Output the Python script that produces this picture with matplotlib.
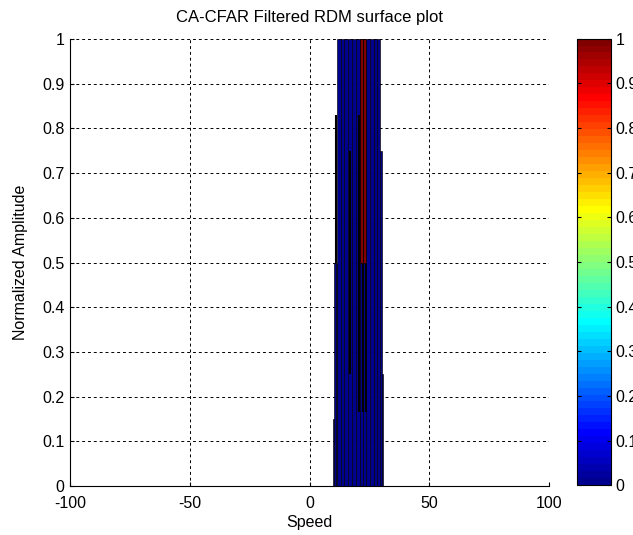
import matplotlib.pyplot as plt
import matplotlib as mpl
import numpy as np

plt.rcParams["font.family"] = ["Liberation Sans", "DejaVu Sans"]
plt.rcParams["font.size"] = 11.5
plt.rcParams["axes.unicode_minus"] = False

# Side view of the CFAR output: blue columns (value 0 colour) with black mesh edges
# outer silhouette steps (speed from, speed to, height)
edge_from = [9.6, 10.2, 10.9, 29.4, 30.1]
edge_to = [10.2, 10.9, 11.4, 30.1, 30.5]
edge_height = [0.15, 0.5, 0.5, 0.75, 0.25]

# full height columns between these speed boundaries
col_bounds = [11.4, 13.0, 14.6, 16.2, 17.8, 19.4, 21.0, 22.4, 23.8, 25.4, 27.0, 28.4, 29.4]
col_height = 1.0

# red (value 1) part of the surface
red_from = [21.0, 22.4]
red_to = [22.4, 23.8]
red_bottom = 0.5
red_top = 1.0

# black faces seen edge-on (speed, low, high)
black_speed = [11.15, 17.1, 20.8, 22.4, 23.6]
black_low = [0.5, 0.25, 0.165, 0.165, 0.165]
black_high = [0.83, 0.75, 0.83, 0.5, 0.5]

# MATLAB style jet with 64 levels
cmap = mpl.colors.LinearSegmentedColormap.from_list(
    "mjet",
    [(0.0, (0, 0, 0.5625)), (7 / 63, (0, 0, 1)), (23 / 63, (0, 1, 1)),
     (39 / 63, (1, 1, 0)), (55 / 63, (1, 0, 0)), (1.0, (0.5, 0, 0))],
    N=64,
)
norm = mpl.colors.Normalize(0, 1)

fig = plt.figure(figsize=(6.33, 5.35), dpi=100)
ax = fig.add_axes([0.111, 0.0916, 0.756, 0.8354])

lefts = np.array(edge_from)
widths = np.array(edge_to) - lefts
ax.bar(lefts, edge_height, width=widths, align="edge", color=cmap(norm(0)),
       edgecolor="black", linewidth=0.45, zorder=2)

cb_left = np.array(col_bounds[:-1])
cb_w = np.diff(col_bounds)
ax.bar(cb_left, col_height, width=cb_w, align="edge", color=cmap(norm(0)),
       edgecolor="black", linewidth=0.45, zorder=3)

ax.vlines(black_speed, black_low, black_high, colors="black", linewidth=1.5, zorder=4)

rl = np.array(red_from)
ax.bar(rl, red_top - red_bottom, width=np.array(red_to) - rl, bottom=red_bottom,
       align="edge", color=cmap(norm(1)), edgecolor="black", linewidth=0.45, zorder=5)

ax.set_xlim(-100, 100)
ax.set_ylim(0, 1)
ax.set_xticks(np.arange(-100, 101, 50))
ax.set_yticks(np.arange(0, 1.01, 0.1))
ax.set_yticklabels(["0", "0.1", "0.2", "0.3", "0.4", "0.5", "0.6", "0.7", "0.8", "0.9", "1"])
ax.set_axisbelow(True)
ax.grid(True, color="black", linestyle=(0, (3, 3)), linewidth=0.7)
ax.spines["top"].set_visible(False)
ax.spines["right"].set_visible(False)
ax.tick_params(direction="in", length=3, colors="black", labelcolor="black")
ax.tick_params(axis="x", pad=7)
ax.tick_params(axis="y", pad=4)
ax.set_xlabel("Speed", labelpad=3)
ax.set_ylabel("Normalized Amplitude", labelpad=10)
ax.set_title("CA-CFAR Filtered RDM surface plot", fontsize=12, pad=12)

cax = fig.add_axes([0.911, 0.093, 0.055, 0.835])
sm = mpl.cm.ScalarMappable(norm=norm, cmap=cmap)
cb = fig.colorbar(sm, cax=cax)
cb.set_ticks(np.arange(0, 1.01, 0.1))
cb.set_ticklabels(["0", "0.1", "0.2", "0.3", "0.4", "0.5", "0.6", "0.7", "0.8", "0.9", "1"])
cb.ax.tick_params(direction="in", length=3, left=True, right=True, pad=3)
cb.outline.set_linewidth(0.8)

fig.savefig("out.png", dpi=100)
